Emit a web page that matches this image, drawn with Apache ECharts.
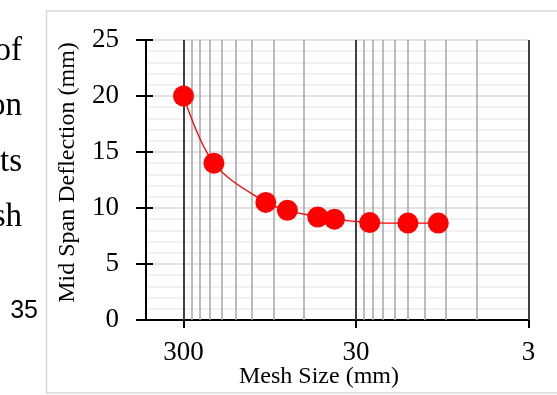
<!DOCTYPE html>
<html>
<head>
<meta charset="utf-8">
<script src="https://cdn.jsdelivr.net/npm/echarts@6/dist/echarts.min.js"></script>
<style>
html,body{margin:0;padding:0;background:#fff;}
#chart{width:557px;height:395px;}
</style>
</head>
<body>
<div id="chart"></div>
<script>
// ---- data ----
const meshSize = [300, 200, 100, 75, 50, 40, 25, 15, 10];
const deflection = [20.0, 14.0, 10.5, 9.8, 9.2, 9.0, 8.7, 8.65, 8.65];
const xTickValues = [300, 30, 3];
const majorGridX = [300, 30, 3];
const minorGridX = [270, 240, 210, 180, 150, 120, 90, 60, 27, 24, 21, 18, 15, 12, 9, 6];
const xTitle = 'Mesh Size (mm)';
const yTitle = 'Mid Span Deflection (mm)';
const sideWords = ['of', 'on', 'ts', 'sh'];
const pageNumber = '35';

const points = meshSize.map((m, i) => [m, deflection[i]]);
const serif = 'Liberation Serif';

const chart = echarts.init(document.getElementById('chart'), null, {renderer: 'canvas'});

const gridMarks = []
  .concat(minorGridX.map(v => ({xAxis: v, lineStyle: {color: '#a6a6a6', width: 1.5, type: 'solid'}})))
  .concat(majorGridX.map(v => ({xAxis: v, lineStyle: {color: '#404040', width: 2, type: 'solid'}})));

const sideText = sideWords.map((w, i) => ({
  type: 'text', x: 22, y: 68 + i * 55.3, z: 10,
  style: {text: w, fontFamily: serif, fontSize: 33, fill: '#000', textAlign: 'right', textVerticalAlign: 'bottom'}
}));

const option = {
  animation: false,
  backgroundColor: '#fff',
  grid: {left: 146, right: 28.5, top: 40, bottom: 75, containLabel: false},
  xAxis: [
    {
      type: 'log', logBase: 10, inverse: true, min: 3, max: 495,
      axisLine: {show: true, onZero: false, lineStyle: {color: '#000', width: 2}},
      axisTick: {show: true, customValues: xTickValues, length: 8, lineStyle: {color: '#000', width: 2}},
      axisLabel: {show: true, customValues: xTickValues, margin: 19, fontFamily: serif, fontSize: 27, color: '#000',
        formatter: v => String(Math.round(v))},
      splitLine: {show: false}, minorSplitLine: {show: false}
    },
    {
      type: 'log', logBase: 10, inverse: true, min: 3, max: 495, position: 'bottom', offset: 0,
      axisLine: {show: false},
      axisTick: {show: true, inside: true, customValues: xTickValues, length: 8, lineStyle: {color: '#000', width: 2}},
      axisLabel: {show: false},
      splitLine: {show: false}
    }
  ],
  yAxis: [
    {
      type: 'value', min: 0, max: 25, interval: 5,
      axisLine: {show: true, onZero: false, lineStyle: {color: '#000', width: 2}},
      axisTick: {show: true, length: 10, lineStyle: {color: '#000', width: 2}},
      axisLabel: {margin: 27, fontFamily: serif, fontSize: 27, color: '#000'},
      splitLine: {show: true, lineStyle: {color: '#d9d9d9', width: 1.5}},
      minorTick: {show: false, splitNumber: 5},
      minorSplitLine: {show: true, lineStyle: {color: '#ededed', width: 1.5}}
    },
    {
      type: 'value', min: 0, max: 25, interval: 5, position: 'left', offset: 0,
      axisLine: {show: false},
      axisTick: {show: true, inside: true, length: 7, lineStyle: {color: '#000', width: 2}},
      axisLabel: {show: false},
      splitLine: {show: false}
    }
  ],
  series: [
    {
      name: 'grid', type: 'line', xAxisIndex: 0, yAxisIndex: 0, z: 1,
      data: points, showSymbol: false, symbol: 'none', lineStyle: {opacity: 0, width: 0}, silent: true,
      markLine: {silent: true, symbol: ['none', 'none'], label: {show: false}, animation: false, data: gridMarks}
    },
    {
      name: 'Deflection', type: 'line', xAxisIndex: 0, yAxisIndex: 0, z: 5,
      data: points, smooth: 0.35,
      symbol: 'circle', symbolSize: 21,
      itemStyle: {color: '#ff0000'},
      lineStyle: {color: '#ff0000', width: 1.3}
    }
  ],
  graphic: [
    {type: 'rect', z: -1, shape: {x: 46.5, y: 11, width: 540, height: 382},
     style: {fill: 'none', stroke: '#d9d9d9', lineWidth: 1.5}},
    {type: 'text', x: 319, y: 377, z: 10,
     style: {text: xTitle, fontFamily: serif, fontSize: 24, fill: '#000', textAlign: 'center', textVerticalAlign: 'middle'}},
    {type: 'text', x: 67.5, y: 172.5, rotation: Math.PI / 2, z: 10,
     style: {text: yTitle, fontFamily: serif, fontSize: 24, fill: '#000', textAlign: 'center', textVerticalAlign: 'middle'}},
    {type: 'text', x: 38, y: 311, z: 10,
     style: {text: pageNumber, fontFamily: 'Liberation Sans', fontSize: 25, fill: '#000', textAlign: 'right', textVerticalAlign: 'middle'}}
  ].concat(sideText)
};
chart.setOption(option);
</script>
</body>
</html>
